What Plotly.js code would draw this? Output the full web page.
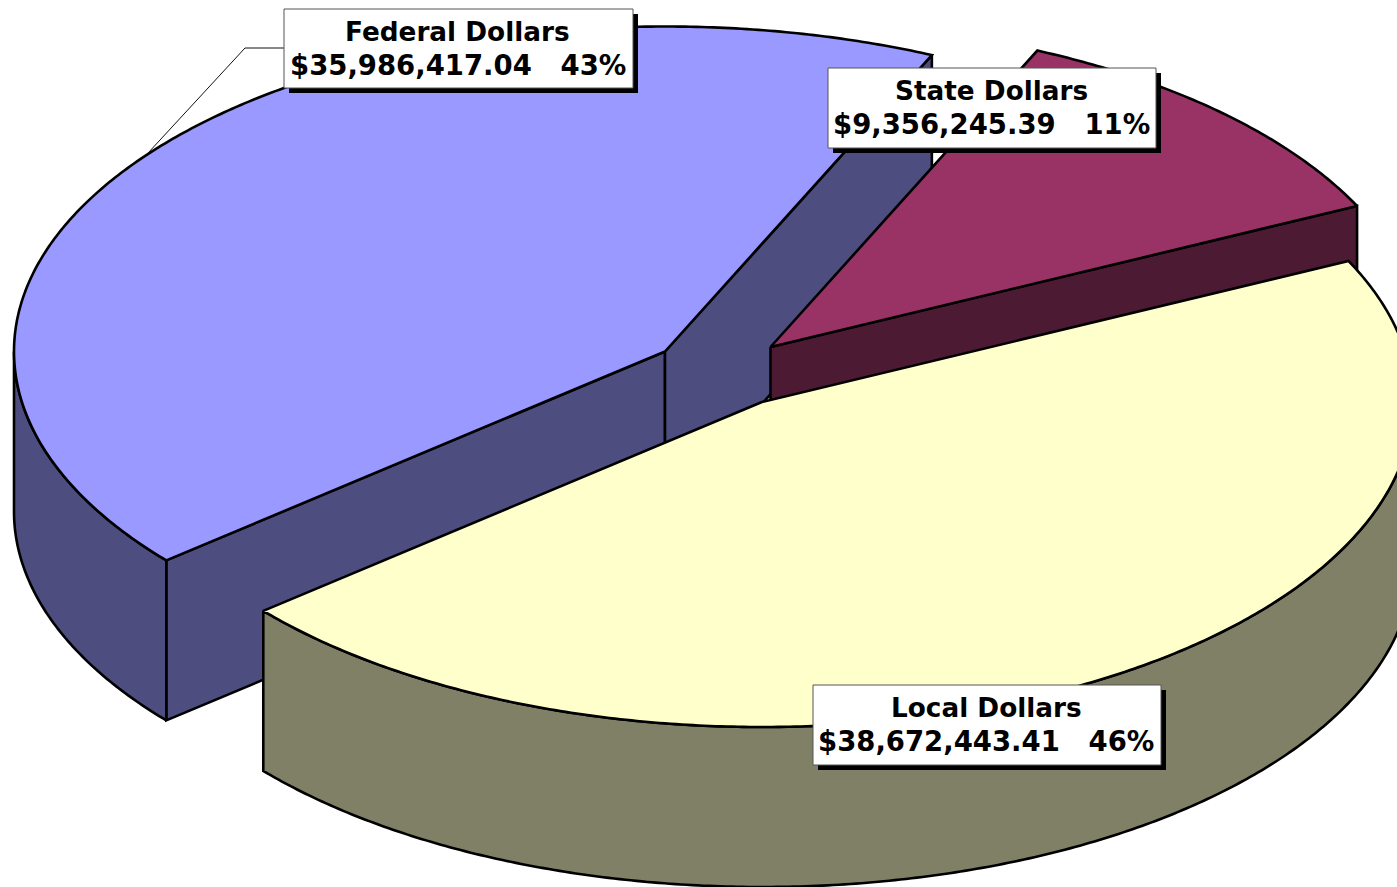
<!DOCTYPE html>
<html>
<head>
<meta charset="utf-8">
<script src="https://cdn.plot.ly/plotly-3.0.1.min.js"></script>
<style>html,body{margin:0;padding:0;background:#fff;overflow:hidden}#chart{width:1397px;height:887px}</style>
</head>
<body>
<div id="chart"></div>
<script>
// Data, in drawing order
const categories = ["Federal Dollars", "State Dollars", "Local Dollars"];
const amounts = [35986417.04, 9356245.39, 38672443.41];
const amountLabels = ["$35,986,417.04", "$9,356,245.39", "$38,672,443.41"];
const percentLabels = ["43%", "11%", "46%"];

// Styles
const topColors = ["#9999FF", "#993366", "#FFFFCC"];
const sideColors = ["#4D4D80", "#4D1A33", "#808066"];

// Pie projection
const firstSliceEnd = 24.2;         // clockwise degrees from north where Federal ends
const apexes = [[665, 351.5], [770.5, 347], [762, 402]];
const rx = 651, ry = 325, depth = 160;

// Label boxes [left, top, right, bottom]
const boxes = [[284, 9, 633, 88], [828, 68, 1156, 148], [813, 685, 1161, 765]];
const shadow = 5;

const total = amounts.reduce((a, b) => a + b, 0);
const spans = amounts.map(v => v / total * 360);
// Federal ends at firstSliceEnd; State and Local follow clockwise
const ranges = [
  [firstSliceEnd - spans[0], firstSliceEnd],
  [firstSliceEnd, firstSliceEnd + spans[1]],
  [firstSliceEnd + spans[1], firstSliceEnd + spans[1] + spans[2]]
];

function rim(apex, deg) {
  const t = deg * Math.PI / 180;
  return [apex[0] + rx * Math.sin(t), apex[1] - ry * Math.cos(t)];
}
function arc(apex, from, to) {
  const pts = [], n = Math.max(2, Math.ceil(Math.abs(to - from) * 2));
  for (let i = 0; i <= n; i++) pts.push(rim(apex, from + (to - from) * i / n));
  return pts;
}
const drop = pts => pts.map(p => [p[0], p[1] + depth]);
function poly(pts, fill) {
  const closed = pts.concat([pts[0]]);
  return {
    type: "scatter", mode: "lines", x: closed.map(p => p[0]), y: closed.map(p => p[1]),
    fill: "toself", fillcolor: fill, line: {color: "#000", width: 2.6, simplify: false},
    hoverinfo: "skip", showlegend: false
  };
}
function normDeg(d) { return ((d % 360) + 360) % 360; }

const traces = [];
ranges.forEach((r, i) => {
  const apex = apexes[i], side = sideColors[i];
  const a = r[0], b = r[1];
  // Cut faces visible from the front
  [a, b].forEach(deg => {
    const e = rim(apex, deg), n = normDeg(deg);
    // the face at the slice start is visible on the left half, the face at its end on the right half
    const visible = deg === a ? n > 180 : n < 180;
    if (visible) traces.push(poly([apex, e, [e[0], e[1] + depth], [apex[0], apex[1] + depth]], side));
  });
  // Outer wall: only the part of the rim facing the viewer (90..270 degrees)
  for (let k = -1; k <= 1; k++) {
    const lo = Math.max(a, 90 + 360 * k), hi = Math.min(b, 270 + 360 * k);
    if (hi > lo) {
      const top = arc(apex, lo, hi);
      traces.push(poly(top.concat(drop(top).reverse()), side));
    }
  }
  // Top face
  traces.push(poly([apex].concat(arc(apex, a, b)), topColors[i]));
});

// Leader line for the Federal label
const leaderX = [284, 245, 148];
const leaderY = [48, 48, 153];
traces.push({type: "scatter", mode: "lines", x: leaderX, y: leaderY,
  line: {color: "#111", width: 1}, hoverinfo: "skip", showlegend: false});

const shapes = [], annotations = [];
const font = {family: "'DejaVu Sans', sans-serif", size: 27.5, color: "#000", weight: 700};
boxes.forEach((b, i) => {
  shapes.push({type: "rect", xref: "x", yref: "y", x0: b[0] + shadow, x1: b[2] + shadow, y0: b[1] + shadow, y1: b[3] + shadow,
    fillcolor: "#000", line: {width: 0}, layer: "above"});
  shapes.push({type: "rect", xref: "x", yref: "y", x0: b[0], x1: b[2], y0: b[1], y1: b[3],
    fillcolor: "#fff", line: {color: "#555", width: 1}, layer: "above"});
  const cx = (b[0] + b[2]) / 2 - 1;
  annotations.push({xref: "x", yref: "y", x: cx, y: b[1] + 23, text: categories[i], showarrow: false,
    xanchor: "center", yanchor: "middle", font: {...font, size: 26.3}});
  annotations.push({xref: "x", yref: "y", x: cx, y: b[1] + 56,
    text: amountLabels[i] + "\u00A0\u00A0\u00A0" + percentLabels[i], showarrow: false,
    xanchor: "center", yanchor: "middle", font});
});

Plotly.newPlot("chart", traces, {
  width: 1397, height: 887,
  margin: {l: 0, r: 0, t: 0, b: 0},
  paper_bgcolor: "#fff", plot_bgcolor: "#fff", showlegend: false,
  xaxis: {range: [0, 1397], visible: false, fixedrange: true},
  yaxis: {range: [887, 0], visible: false, fixedrange: true},
  shapes, annotations
}, {displayModeBar: false, staticPlot: true});
</script>
</body>
</html>
